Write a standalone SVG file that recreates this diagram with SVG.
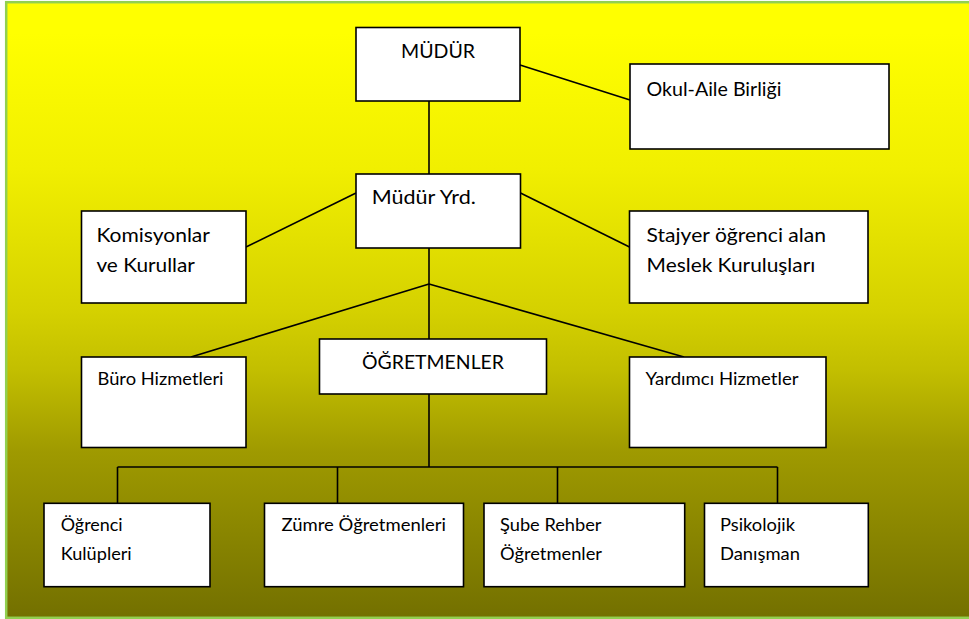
<svg xmlns="http://www.w3.org/2000/svg" width="969" height="619" viewBox="0 0 969 619">
<defs>
<linearGradient id="bg" x1="0" y1="0" x2="0" y2="1">
<stop offset="0" stop-color="#FFFF00"/>
<stop offset="0.05" stop-color="#FFFF00"/>
<stop offset="0.27" stop-color="#F1EF00"/>
<stop offset="0.5" stop-color="#D5D100"/>
<stop offset="0.6" stop-color="#C2BE00"/>
<stop offset="0.73" stop-color="#9F9A00"/>
<stop offset="1" stop-color="#737000"/>
</linearGradient>
<style>
.box{fill:#FFFFFF;stroke:#000000;stroke-width:1.6}
.ln{stroke:#000000;stroke-width:1.6;fill:none}
.t{font-family:Lato,"Open Sans","Liberation Sans",sans-serif;fill:#000000}
.lg{font-size:19.8px}
.sm{font-size:17.3px}
</style>
</defs>
<rect x="6.2" y="2.2" width="975" height="615.6" fill="url(#bg)" stroke="#92D050" stroke-width="2.5"/>
<g id="connectors">
<line class="ln" x1="429" y1="101" x2="429" y2="174"/>
<line class="ln" x1="520" y1="65" x2="630" y2="100"/>
<line class="ln" x1="356" y1="193" x2="246" y2="247"/>
<line class="ln" x1="520.5" y1="193" x2="629.5" y2="247"/>
<line class="ln" x1="429" y1="248" x2="429" y2="339"/>
<line class="ln" x1="429" y1="284" x2="191" y2="357"/>
<line class="ln" x1="429" y1="284" x2="684" y2="357"/>
<line class="ln" x1="429" y1="394" x2="429" y2="467"/>
<line class="ln" x1="117.5" y1="467" x2="777.5" y2="467"/>
<line class="ln" x1="117.5" y1="467" x2="117.5" y2="503.3"/>
<line class="ln" x1="337.5" y1="467" x2="337.5" y2="503.3"/>
<line class="ln" x1="557.5" y1="467" x2="557.5" y2="503.3"/>
<line class="ln" x1="777.5" y1="467" x2="777.5" y2="503.3"/>
</g>
<g id="mudur">
<rect class="box" x="356" y="27.5" width="164" height="73.5"/>
<text class="t lg" x="438" y="58.3" text-anchor="middle" textLength="74" lengthAdjust="spacingAndGlyphs">MÜDÜR</text>
</g>
<g id="okul-aile">
<rect class="box" x="630" y="64" width="259" height="85"/>
<text class="t lg" x="646.5" y="95.7" textLength="135" lengthAdjust="spacingAndGlyphs">Okul-Aile Birliği</text>
</g>
<g id="mudur-yrd">
<rect class="box" x="356" y="174" width="164.5" height="74"/>
<text class="t lg" x="371.8" y="204.3" textLength="104" lengthAdjust="spacingAndGlyphs">Müdür Yrd.</text>
</g>
<g id="komisyonlar">
<rect class="box" x="81.5" y="211" width="164.5" height="92"/>
<text class="t lg" x="96.4" y="241.7" textLength="113.6" lengthAdjust="spacingAndGlyphs">Komisyonlar</text>
<text class="t lg" x="96.4" y="272.3" textLength="98.5" lengthAdjust="spacingAndGlyphs">ve Kurullar</text>
</g>
<g id="stajyer">
<rect class="box" x="629.5" y="211" width="238.5" height="92"/>
<text class="t lg" x="646.6" y="241.7" textLength="179.4" lengthAdjust="spacingAndGlyphs">Stajyer öğrenci alan</text>
<text class="t lg" x="646.6" y="272.3" textLength="168.7" lengthAdjust="spacingAndGlyphs">Meslek Kuruluşları</text>
</g>
<g id="ogretmenler">
<rect class="box" x="319.5" y="339" width="227" height="55"/>
<text class="t lg" x="433" y="369.3" text-anchor="middle" textLength="142" lengthAdjust="spacingAndGlyphs">ÖĞRETMENLER</text>
</g>
<g id="buro">
<rect class="box" x="81.5" y="357" width="164.5" height="90.5"/>
<text class="t sm" x="97.5" y="384.7" textLength="126" lengthAdjust="spacingAndGlyphs">Büro Hizmetleri</text>
</g>
<g id="yardimci">
<rect class="box" x="629.5" y="357" width="196.5" height="90.5"/>
<text class="t sm" x="645.5" y="384.7" textLength="153" lengthAdjust="spacingAndGlyphs">Yardımcı Hizmetler</text>
</g>
<g id="ogrenci-kulupleri">
<rect class="box" x="44" y="503.3" width="166" height="83.4"/>
<text class="t sm" x="60.7" y="531" textLength="62" lengthAdjust="spacingAndGlyphs">Öğrenci</text>
<text class="t sm" x="60.7" y="560" textLength="71" lengthAdjust="spacingAndGlyphs">Kulüpleri</text>
</g>
<g id="zumre">
<rect class="box" x="264.5" y="503.3" width="199" height="83.4"/>
<text class="t sm" x="281.5" y="531" textLength="164.5" lengthAdjust="spacingAndGlyphs">Zümre Öğretmenleri</text>
</g>
<g id="sube-rehber">
<rect class="box" x="484" y="503.3" width="200.7" height="83.4"/>
<text class="t sm" x="500" y="531" textLength="101.5" lengthAdjust="spacingAndGlyphs">Şube Rehber</text>
<text class="t sm" x="500" y="560" textLength="102" lengthAdjust="spacingAndGlyphs">Öğretmenler</text>
</g>
<g id="psikolojik">
<rect class="box" x="704.5" y="503.3" width="163.8" height="83.4"/>
<text class="t sm" x="720" y="531" textLength="75" lengthAdjust="spacingAndGlyphs">Psikolojik</text>
<text class="t sm" x="720" y="560" textLength="80" lengthAdjust="spacingAndGlyphs">Danışman</text>
</g>
</svg>
